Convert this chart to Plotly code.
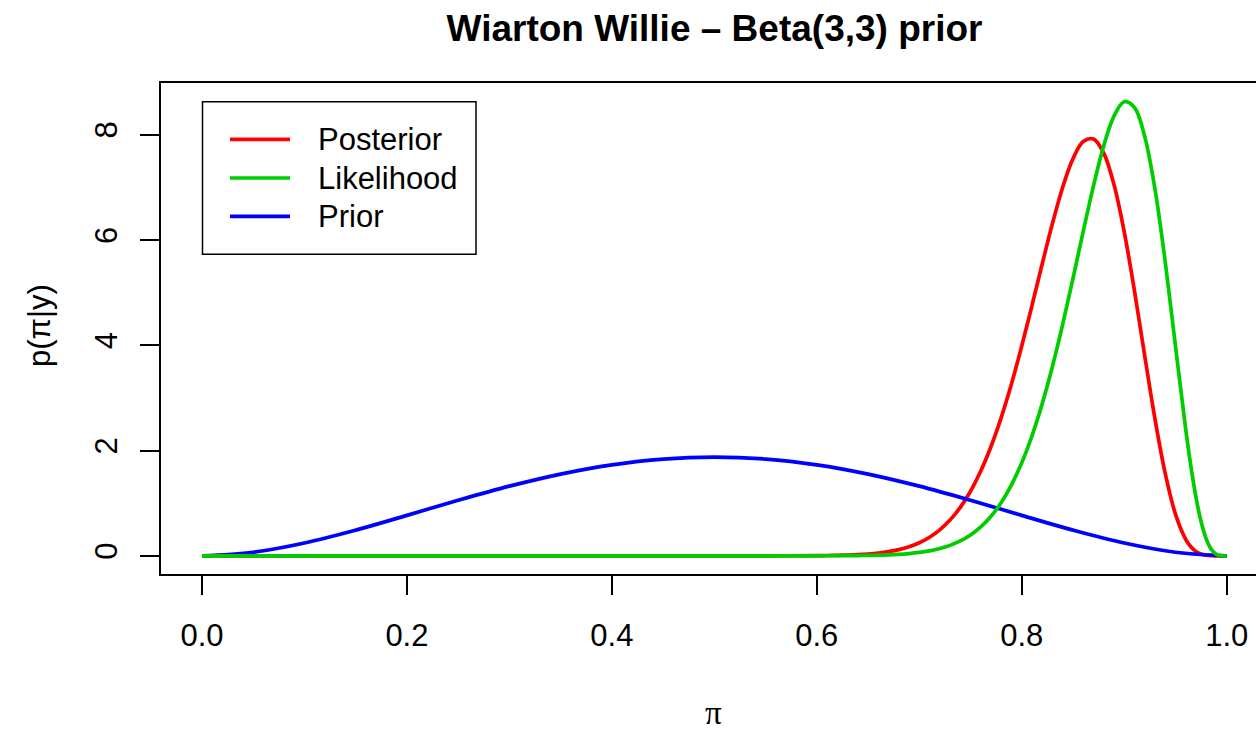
import plotly.graph_objects as go

# Grid for the posterior and likelihood densities (denser where they rise)
pi_grid = [0.0, 0.1, 0.2, 0.3, 0.4, 0.5, 0.55,
           0.60, 0.61, 0.62, 0.63, 0.64, 0.65, 0.66, 0.67, 0.68, 0.69,
           0.70, 0.71, 0.72, 0.73, 0.74, 0.75, 0.76, 0.77, 0.78, 0.79,
           0.80, 0.81, 0.82, 0.83, 0.84, 0.85, 0.86, 0.87, 0.88, 0.89,
           0.90, 0.91, 0.92, 0.93, 0.94, 0.95, 0.96, 0.965, 0.97, 0.975,
           0.98, 0.985, 0.99, 0.995, 1.0]

posterior = [0, 0, 0, 0, 0, 0, 0.0002,
             0.0034, 0.0056, 0.0090, 0.0144, 0.0225, 0.0348, 0.0531, 0.0797, 0.1181, 0.1726,
             0.2484, 0.3525, 0.4927, 0.6783, 0.9194, 1.2265, 1.6093, 2.0757, 2.6296, 3.2690,
             3.9842, 4.7540, 5.5465, 6.3147, 7.0032, 7.5434, 7.8683, 7.9175, 7.6489, 7.0508,
             6.1531, 5.0319, 3.8011, 2.6006, 1.5651, 0.7920, 0.3123, 0.1717, 0.0833, 0.0341,
             0.0109, 0.0024, 0.0003, 0.0, 0.0]

likelihood = [0, 0, 0, 0, 0, 0, 0.0,
              0.0007, 0.0011, 0.0018, 0.0030, 0.0048, 0.0076, 0.0120, 0.0185, 0.0283, 0.0428,
              0.0639, 0.0944, 0.1376, 0.1982, 0.2820, 0.3961, 0.5491, 0.7513, 1.0137, 1.3484,
              1.7667, 2.2787, 2.8902, 3.6006, 4.4011, 5.2675, 6.1614, 7.0266, 7.7866, 8.3513,
              8.6238, 8.5159, 7.9655, 6.9664, 5.5857, 3.9847, 2.4044, 1.7080, 1.1163, 0.6511,
              0.3223, 0.1231, 0.0293, 0.0022, 0.0]

# Beta(3,3) prior
prior_grid = [0.0, 0.05, 0.10, 0.15, 0.20, 0.25, 0.30, 0.35, 0.40, 0.45, 0.50,
              0.55, 0.60, 0.65, 0.70, 0.75, 0.80, 0.85, 0.90, 0.95, 1.0]
prior = [0.0, 0.0677, 0.243, 0.4877, 0.768, 1.0547, 1.323, 1.5527, 1.728, 1.8377, 1.875,
         1.8377, 1.728, 1.5527, 1.323, 1.0547, 0.768, 0.4877, 0.243, 0.0677, 0.0]

x_ticks = [0.0, 0.2, 0.4, 0.6, 0.8, 1.0]
x_tick_text = ["0.0", "0.2", "0.4", "0.6", "0.8", "1.0"]
y_ticks = [0, 2, 4, 6, 8]
y_tick_text = ["0", "2", "4", "6", "8"]

legend_names = ["Posterior", "Likelihood", "Prior"]
RED, GREEN, BLUE = "#FF0000", "#00CD00", "#0000FF"
legend_colors = [RED, GREEN, BLUE]

SANS = "Liberation Sans, Arial, sans-serif"
LW = 3.7

fig = go.Figure()
fig.add_trace(go.Scatter(x=pi_grid, y=posterior, mode="lines",
                         line=dict(color=RED, width=LW, shape="spline", smoothing=1),
                         name="Posterior", showlegend=False))
fig.add_trace(go.Scatter(x=prior_grid, y=prior, mode="lines",
                         line=dict(color=BLUE, width=LW, shape="spline", smoothing=1),
                         name="Prior", showlegend=False))
fig.add_trace(go.Scatter(x=pi_grid, y=likelihood, mode="lines",
                         line=dict(color=GREEN, width=LW, shape="spline", smoothing=1),
                         name="Likelihood", showlegend=False))

W, H = 1256, 733
ML, MR, MT, MB = 161, 0, 83, 159
PW, PH = W - ML - MR, H - MT - MB


def px_x(px):
    return (px - ML) / PW


def px_y(py):
    return (H - MB - py) / PH


# Legend box drawn as shapes and annotations
shapes = [dict(type="rect", xref="paper", yref="paper",
               x0=px_x(202.5), x1=px_x(476), y0=px_y(254.3), y1=px_y(101.7),
               line=dict(color="black", width=1.5), fillcolor="white", layer="above")]
annotations = []
legend_rows = [139.3, 178.0, 216.3]
for name, col, row in zip(legend_names, legend_colors, legend_rows):
    shapes.append(dict(type="line", xref="paper", yref="paper",
                       x0=px_x(230), x1=px_x(290), y0=px_y(row), y1=px_y(row),
                       line=dict(color=col, width=LW), layer="above"))
    annotations.append(dict(text=name, xref="paper", yref="paper",
                            x=px_x(316), y=px_y(row), xanchor="left", yanchor="middle",
                            showarrow=False, font=dict(family=SANS, size=31, color="black")))

# Axis titles
annotations.append(dict(text="π", xref="paper", yref="paper",
                        x=px_x(713.5), y=px_y(733), xanchor="center", yanchor="bottom",
                        showarrow=False,
                        font=dict(family="Liberation Serif, Times New Roman, serif",
                                  size=33, color="black")))
annotations.append(dict(text="p(π|y)", xref="paper", yref="paper",
                        x=px_x(39), y=px_y(326), xanchor="center", yanchor="middle",
                        textangle=-90, showarrow=False,
                        font=dict(family=SANS, size=31, color="black")))

fig.update_layout(
    width=W, height=H,
    margin=dict(l=ML, r=MR, t=MT, b=MB, pad=0),
    paper_bgcolor="white", plot_bgcolor="white",
    title=dict(text="<b>Wiarton Willie – Beta(3,3) prior</b>",
               xref="paper", x=px_x(714.5), xanchor="center",
               yref="container", y=1 - 28 / H, yanchor="middle",
               font=dict(family=SANS, size=37, color="black")),
    shapes=shapes,
    annotations=annotations,
    showlegend=False,
)

fig.update_xaxes(range=[-0.04, 1.0286], tickvals=x_ticks, ticktext=x_tick_text,
                 showgrid=False, zeroline=False,
                 showline=True, linecolor="black", linewidth=1.5, mirror=True,
                 ticks="outside", ticklen=19, tickwidth=1.5, tickcolor="black",
                 tickfont=dict(family=SANS, size=31, color="black"),
                 ticklabelstandoff=14)
fig.update_yaxes(range=[-0.3454, 8.9805], tickvals=y_ticks, ticktext=y_tick_text,
                 showgrid=False, zeroline=False,
                 showline=True, linecolor="black", linewidth=1.5, mirror=False,
                 ticks="outside", ticklen=19, tickwidth=1.5, tickcolor="black",
                 tickangle=-90,
                 tickfont=dict(family=SANS, size=31, color="black"),
                 ticklabelstandoff=11)

fig.write_html("out.html")
